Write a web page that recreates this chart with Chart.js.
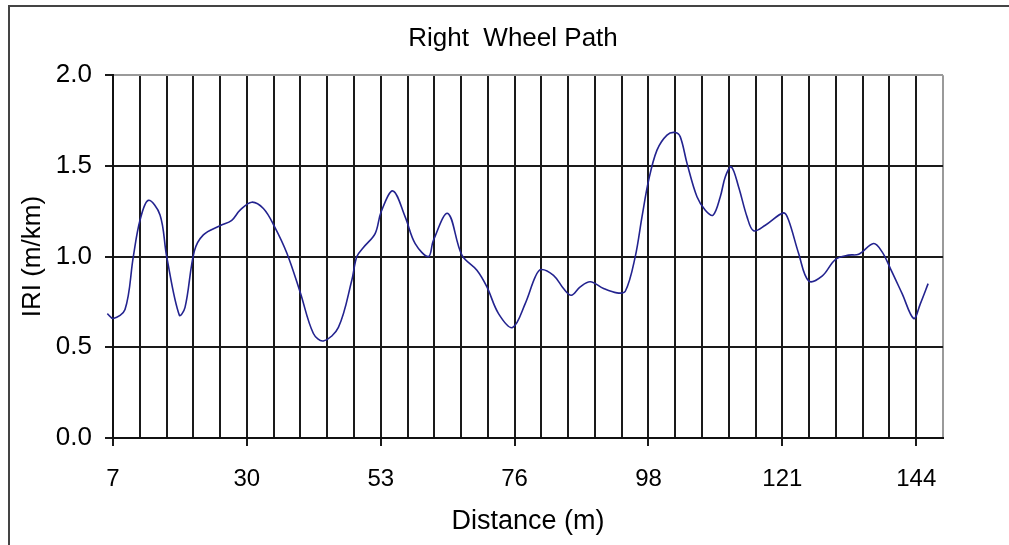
<!DOCTYPE html>
<html>
<head>
<meta charset="utf-8">
<script src="https://cdn.jsdelivr.net/npm/chart.js@4/dist/chart.umd.min.js"></script>
<style>
  html, body { margin: 0; padding: 0; background: #fff; }
  canvas { display: block; }
</style>
</head>
<body>
<canvas id="c" width="1009" height="545"></canvas>
<script>
// ---- data ----
const chartTitle = 'Right  Wheel Path';
const xTitle = 'Distance (m)';
const yTitle = 'IRI (m/km)';

// distance along the path (m)
const distance = [6.03, 7.05, 9.05, 10.47, 11.61, 13.03, 15.03, 16.17, 18.33, 19.30,
  20.89, 22.43, 25.28, 27.28, 28.70, 30.70, 32.68, 34.51, 36.68, 38.95,
  41.22, 42.93, 45.49, 47.78, 48.64, 49.76, 51.76, 52.79, 54.79, 56.89,
  58.60, 60.87, 61.72, 64.18, 66.58, 69.14, 70.85, 72.83, 75.22, 77.39,
  79.10, 80.07, 82.22, 83.93, 85.25, 86.79, 88.50, 90.77, 93.06, 94.48,
  96.18, 97.33, 98.46, 99.89, 101.60, 103.02, 103.87, 105.02, 106.72, 108.14,
  109.46, 110.70, 111.56, 112.58, 113.83, 115.27, 116.39, 118.39, 121.52, 122.37,
  124.08, 125.79, 128.08, 130.35, 132.62, 134.33, 136.89, 138.33, 139.75, 141.75,
  143.73, 144.87, 146.19];

// IRI (m/km)
const iri = [0.686, 0.659, 0.708, 1.00, 1.20, 1.31, 1.23, 1.00, 0.677, 0.72,
  1.03, 1.12, 1.17, 1.20, 1.256, 1.30, 1.265, 1.17, 1.02, 0.805,
  0.576, 0.535, 0.61, 0.87, 1.00, 1.05, 1.127, 1.247, 1.362, 1.219,
  1.072, 1.00, 1.09, 1.238, 1.008, 0.925, 0.833, 0.686, 0.609, 0.741,
  0.888, 0.929, 0.897, 0.824, 0.787, 0.833, 0.861, 0.824, 0.80, 0.809,
  1.00, 1.219, 1.42, 1.587, 1.67, 1.684, 1.66, 1.514, 1.33, 1.256,
  1.228, 1.33, 1.44, 1.495, 1.384, 1.219, 1.142, 1.173, 1.241, 1.20,
  1.017, 0.866, 0.892, 0.984, 1.008, 1.013, 1.072, 1.026, 0.934, 0.796,
  0.659, 0.741, 0.851];

// vertical grid positions (m) – one per 4.572 m station
const xGridPositions = [7, 11.57, 16.14, 20.72, 25.29, 29.86, 34.43, 39.00, 43.58, 48.15,
  52.72, 57.29, 61.86, 66.44, 71.01, 75.58, 80.15, 84.72, 89.30, 93.87,
  98.44, 103.01, 107.58, 112.16, 116.73, 121.30, 125.87, 130.44, 135.02, 139.59,
  144.16, 148.73];
// labels shown at every fifth station
const xTickLabels = ['7', '30', '53', '76', '98', '121', '144'];
const labelEvery = 5;

const yMin = 0, yMax = 2, yStep = 0.5;

// ---- chart ----
const FONT = "'Liberation Sans', Arial, sans-serif";

const framePlugin = {
  id: 'frame',
  beforeDraw(chart) {
    const ctx = chart.ctx;
    ctx.save();
    ctx.strokeStyle = '#444';
    ctx.lineWidth = 2;
    ctx.beginPath();
    ctx.moveTo(9, chart.height);
    ctx.lineTo(9, 6);
    ctx.lineTo(chart.width, 6);
    ctx.stroke();
    ctx.restore();
  }
};

new Chart(document.getElementById('c'), {
  type: 'line',
  data: {
    datasets: [{
      data: distance.map((d, i) => ({ x: d, y: iri[i] })),
      borderColor: '#23238f',
      borderWidth: 1.6,
      pointRadius: 0,
      tension: 0.35,
      fill: false,
      clip: false
    }]
  },
  options: {
    responsive: false,
    animation: false,
    devicePixelRatio: 1,
    layout: { padding: { left: 17, right: 0, top: 0, bottom: 0 } },
    plugins: {
      legend: { display: false },
      tooltip: { enabled: false },
      title: {
        display: true,
        text: chartTitle,
        color: '#000',
        font: { family: FONT, size: 26, weight: 'normal' },
        padding: { top: 23, bottom: 21 }
      }
    },
    scales: {
      x: {
        type: 'linear',
        min: xGridPositions[0],
        max: xGridPositions[xGridPositions.length - 1],
        afterBuildTicks(scale) {
          scale.ticks = xGridPositions.map(v => ({ value: v }));
        },
        afterFit(scale) { scale.height = 107; },
        ticks: {
          autoSkip: false,
          maxRotation: 0,
          color: '#000',
          padding: 19,
          font: { family: FONT, size: 24 },
          callback(value, index) {
            return index % labelEvery === 0 ? xTickLabels[index / labelEvery] : '';
          }
        },
        grid: {
          color(ctx) {
            return ctx.index === xGridPositions.length - 1 ? '#9a9a9a' : '#1a1a1a';
          },
          lineWidth: 2,
          tickLength: 8,
          tickColor(ctx) {
            return ctx.index % labelEvery === 0 ? '#1a1a1a' : 'rgba(0,0,0,0)';
          }
        },
        border: { display: true, color: '#111', width: 2 },
        title: {
          display: true,
          text: xTitle,
          color: '#000',
          font: { family: FONT, size: 27 },
          padding: { top: 0, bottom: 7 }
        }
      },
      y: {
        min: yMin,
        max: yMax,
        afterFit(scale) { scale.width = 96; },
        ticks: {
          stepSize: yStep,
          color: '#000',
          padding: 13,
          font: { family: FONT, size: 26 },
          callback(value) { return Number(value).toFixed(1); }
        },
        grid: {
          color(ctx) {
            return ctx.tick && ctx.tick.value === yMax ? '#9a9a9a' : '#1a1a1a';
          },
          lineWidth: 2,
          tickLength: 8,
          tickColor: '#1a1a1a'
        },
        border: { display: true, color: '#111', width: 2 },
        title: {
          display: true,
          text: yTitle,
          color: '#000',
          font: { family: FONT, size: 26 },
          padding: { top: 0, bottom: 0 }
        }
      },
      yRight: {
        position: 'right',
        display: true,
        afterFit(scale) { scale.width = 66; },
        ticks: { display: false },
        grid: { display: false, drawOnChartArea: false },
        border: { display: false }
      }
    }
  },
  plugins: [framePlugin]
});
</script>
</body>
</html>
